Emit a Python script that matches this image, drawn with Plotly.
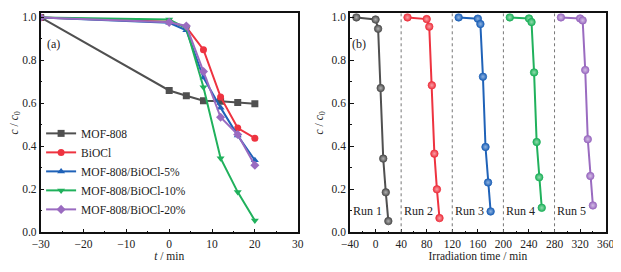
import plotly.graph_objects as go
from plotly.subplots import make_subplots

# ---- Panel (a) data ----
t_a = [-30, 0, 4, 8, 12, 16, 20]
mof808 = [1.0, 0.66, 0.635, 0.612, 0.61, 0.604, 0.598]
biocl = [1.0, 0.98, 0.955, 0.85, 0.63, 0.485, 0.438]
c5 = [1.0, 0.975, 0.94, 0.72, 0.58, 0.45, 0.335]
c10 = [1.0, 0.99, 0.95, 0.675, 0.345, 0.187, 0.055]
c20 = [1.0, 0.977, 0.96, 0.748, 0.535, 0.455, 0.312]
names_a = ["MOF-808", "BiOCl", "MOF-808/BiOCl-5%", "MOF-808/BiOCl-10%", "MOF-808/BiOCl-20%"]

# ---- Panel (b) data ----
run_offsets = [0, 80, 160, 240, 320]
t_run = [-30, 0, 4, 8, 12, 16, 20]
run1 = [1.0, 0.99, 0.947, 0.671, 0.343, 0.186, 0.052]
run2 = [1.0, 0.992, 0.957, 0.684, 0.366, 0.2, 0.066]
run3 = [1.0, 0.994, 0.969, 0.724, 0.397, 0.232, 0.097]
run4 = [1.0, 0.995, 0.978, 0.744, 0.42, 0.256, 0.114]
run5 = [1.0, 0.995, 0.986, 0.755, 0.433, 0.262, 0.125]
run_labels = ["Run 1", "Run 2", "Run 3", "Run 4", "Run 5"]
separators = [40, 120, 200, 280]

colors = ["#505050", "#ee3340", "#1f62b8", "#20b15c", "#9a6bc0"]
highlights = ["#b0b0b0", "#f8a0a6", "#8fb3e0", "#93dcae", "#d4bde6"]
symbols = ["square", "circle", "triangle-up", "triangle-down", "diamond"]

FONT = "Liberation Serif, Times New Roman, serif"
FS = 11.5

fig = make_subplots(rows=1, cols=2)

for ys, nm, col, sym in zip([mof808, biocl, c5, c10, c20], names_a, colors, symbols):
    fig.add_trace(go.Scatter(
        x=t_a, y=ys, name=nm, mode="lines+markers",
        line=dict(color=col, width=2),
        marker=dict(symbol=sym, size=7, color=col),
    ), row=1, col=1)

for k, (ys, col, hl) in enumerate(zip([run1, run2, run3, run4, run5], colors, highlights)):
    xs = [t + run_offsets[k] for t in t_run]
    fig.add_trace(go.Scatter(
        x=xs, y=ys, mode="lines+markers", showlegend=False,
        line=dict(color=col, width=2),
        marker=dict(symbol="circle", size=7.5, color=col,
                    gradient=dict(type="radial", color=hl),
                    line=dict(color=col, width=0.8)),
    ), row=1, col=2)

for s in separators:
    fig.add_shape(type="line", x0=s, x1=s, y0=0, y1=1.019, xref="x2", yref="y2",
                  line=dict(color="#777777", width=1, dash="dot"))

for k, lab in enumerate(run_labels):
    fig.add_annotation(x=-13 + run_offsets[k], y=0.1, xref="x2", yref="y2", text=lab,
                       showarrow=False, font=dict(family=FONT, size=12, color="#222"))

fig.add_annotation(x=-27, y=0.876, xref="x", yref="y", text="(a)", showarrow=False,
                   font=dict(family=FONT, size=12, color="#222"))
fig.add_annotation(x=-26, y=0.876, xref="x2", yref="y2", text="(b)", showarrow=False,
                   font=dict(family=FONT, size=12, color="#222"))

axis_common = dict(
    showgrid=False, zeroline=False, showline=True, linecolor="#111", linewidth=1.5,
    mirror=True, ticks="inside", ticklen=4, tickcolor="#111", automargin=False,
    tickfont=dict(family=FONT, size=FS, color="#222"),
)

ytitle = dict(text="<i>c</i> / <i>c</i><sub>0</sub>", font=dict(family=FONT, size=FS, color="#222"), standoff=6)

fig.update_xaxes(**axis_common, range=[-30, 30], dtick=10, tick0=-30,
                 minor=dict(ticks="inside", ticklen=2, dtick=5, tickcolor="#111"),
                 title=dict(text="<i>t</i> / min", font=dict(family=FONT, size=FS, color="#222"), standoff=2),
                 domain=[0.0533, 0.4726], row=1, col=1)
fig.update_xaxes(**axis_common, range=[-40, 360], dtick=40, tick0=-40,
                 minor=dict(ticks="inside", ticklen=2, dtick=20, tickcolor="#111"),
                 title=dict(text="Irradiation time / min", font=dict(family=FONT, size=FS, color="#222"), standoff=2),
                 domain=[0.5579, 0.975], row=1, col=2)
for c in (1, 2):
    fig.update_yaxes(**axis_common, range=[0, 1.019], dtick=0.2, tick0=0, tickformat=".1f",
                     minor=dict(ticks="inside", ticklen=2, dtick=0.1, tickcolor="#111"),
                     title=ytitle, domain=[0.1504, 0.9799], row=1, col=c)

fig.update_layout(
    width=613, height=264, margin=dict(l=0, r=0, t=0, b=0),
    paper_bgcolor="white", plot_bgcolor="white",
    legend=dict(x=0.054, y=0.58, xanchor="left", yanchor="top",
                bgcolor="rgba(0,0,0,0)", tracegroupgap=0,
                font=dict(family=FONT, size=11.5, color="#222"),
                itemwidth=30),
)

fig.write_html("out.html")
